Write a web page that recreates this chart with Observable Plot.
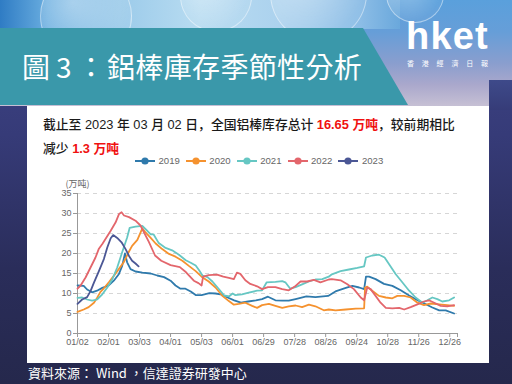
<!DOCTYPE html>
<html><head><meta charset="utf-8">
<script src="https://cdn.jsdelivr.net/npm/d3@7"></script>
<script src="https://cdn.jsdelivr.net/npm/@observablehq/plot@0.6"></script>
<style>
html,body{margin:0;padding:0;}
body{width:512px;height:384px;overflow:hidden;position:relative;
 background:linear-gradient(180deg,#40468a 0%,#363b78 35%,#2a2d5a 70%,#25284c 100%);
 font-family:"Noto Sans CJK TC","Noto Sans",sans-serif;}
.abs{position:absolute;}
#hdr{left:0;top:0;width:512px;height:106px;
 background:linear-gradient(180deg,#5aa0dc 0%,#669ed8 30%,#8a9ece 60%,#aaa8cc 80%,#c6c0d4 100%);}
#hdrR{left:489px;top:80px;width:23px;height:30px;background:linear-gradient(180deg,#3e4a8a,#363c78);}
#sky{left:0;top:0;width:400px;height:29px;
 background:linear-gradient(90deg,#2f7cc4 0%,#6aaee0 12%,#9ccbea 30%,#b8dcf1 50%,#acd2ee 70%,#8cbde6 90%,#6aa8dc 100%);}
.bub{position:absolute;border-radius:50%;border:1px solid rgba(255,255,255,0.45);
 background:radial-gradient(circle at 35% 35%,rgba(255,255,255,0.35),rgba(255,255,255,0.05) 70%);}
#banner{left:0;top:0;width:512px;height:106px;background:#3a98aa;
 clip-path:polygon(0 28px,363px 28px,408px 105px,0 105px);}
.bt{position:absolute;top:46px;color:#fff;font-size:28px;line-height:40px;white-space:pre;font-weight:400;}
#logo{left:406px;top:16.8px;color:#fff;font-family:"Liberation Sans",sans-serif;font-weight:700;font-size:38px;letter-spacing:1.2px;line-height:38px;}
#logo2{left:407px;top:58px;color:#fff;font-size:7px;letter-spacing:7.8px;line-height:10px;white-space:nowrap;}
#panel{left:27px;top:106px;width:462px;height:257px;background:#fff;}
.tl{position:absolute;left:16px;white-space:nowrap;font-size:12.8px;color:#1a1a1a;font-weight:500;
 font-family:"Liberation Sans","Noto Sans CJK SC",sans-serif;}
.tl .cjk{font-family:"Noto Sans CJK SC",sans-serif;}
.red{color:#f01010;font-weight:700;}
#legend{left:108px;top:49px;display:flex;align-items:center;font-family:"Liberation Sans",sans-serif;font-size:9.6px;color:#666;}
#legend .it{display:flex;align-items:center;margin-right:6px;}
#legend svg{margin-right:3.5px;}
#chart{left:0;top:64px;}
#cap{left:28px;top:364px;color:#fff;font-size:13px;line-height:18px;white-space:pre;}
</style></head>
<body>
<div id="hdr" class="abs"></div>
<div id="hdrR" class="abs"></div>
<div id="sky" class="abs"></div>
<div class="bub" style="left:40px;top:-30px;width:90px;height:90px;"></div>
<div class="bub" style="left:180px;top:-40px;width:70px;height:70px;"></div>
<div class="bub" style="left:270px;top:-55px;width:95px;height:95px;"></div>
<div class="bub" style="left:386px;top:-35px;width:56px;height:56px;"></div>
<div id="banner" class="abs"></div>
<div class="bt" style="left:22px;">圖</div>
<div class="bt" style="left:56px;">3</div>
<div class="bt" style="left:77px;">：</div>
<div class="bt" style="left:107px;letter-spacing:0.35px;">鋁棒庫存季節性分析</div>
<div id="logo" class="abs">hket</div>
<div id="logo2" class="abs">香港經濟日報</div>
<div id="panel" class="abs">
 <div class="tl" style="top:8px;"><span class="cjk">截止至</span> 2023 <span class="cjk">年</span> 03 <span class="cjk">月</span> 02 <span class="cjk">日，全国铝棒库存总计</span> <span class="red">16.65 <span class="cjk">万吨</span></span><span class="cjk">，较前期相比</span></div>
 <div class="tl" style="top:32px;"><span class="cjk">减少</span> <span class="red">1.3 <span class="cjk">万吨</span></span></div>
 <div id="legend" class="abs"></div>
 <div id="chart" class="abs"></div>
</div>
<div id="cap" class="abs">資料來源： Wind ，信達證券研發中心</div>
<script>
// ---- data (x in tick-interval units: 0 = 01/02, 1 = 02/01, ...) ----
const xTickLabels = ["01/02","02/01","03/03","04/01","05/03","06/01","06/29","07/28","08/26","09/24","10/28","11/26","12/26"];
const yTicks = [0,5,10,15,20,25,30,35];
const years = ["2019","2020","2021","2022","2023"];
const colors = ["#2f7aac","#f5922f","#66c7c3","#e3666c","#4b5795"];

const t2019 = [0,0.2,0.31,0.47,0.63,0.8,1.0,1.17,1.33,1.44,1.53,1.6,1.71,1.87,2.09,2.36,2.57,2.79,3.0,3.16,3.32,3.48,3.65,3.81,4.0,4.25,4.45,4.66,4.84,5.05,5.27,5.5,5.75,5.95,6.14,6.38,6.6,6.81,7.03,7.38,7.67,8.08,8.34,8.65,8.86,9.08,9.24,9.3,9.4,9.61,9.88,10.15,10.42,10.69,10.96,11.23,11.44,11.66,11.87,12.14];
const v2019 = [12.0,11.9,11.0,10.3,10.7,11.4,12.0,13.2,14.8,16.9,20.0,17.8,16.1,15.5,15.2,15.0,14.5,14.1,13.2,12.0,11.2,11.2,10.5,9.6,9.6,10.1,10.0,9.7,9.0,8.3,7.7,8.0,8.3,8.6,9.2,8.3,8.2,8.2,8.6,9.3,9.1,9.4,10.6,11.4,11.9,11.5,11.1,14.2,14.2,13.6,12.4,11.9,10.8,9.5,8.3,7.3,6.5,5.8,5.8,5.0];

const t2020 = [0,0.2,0.36,0.53,0.63,0.74,0.85,1.01,1.17,1.33,1.49,1.66,1.76,1.93,2.09,2.2,2.36,2.52,2.73,2.95,3.16,3.38,3.59,3.81,4.0,4.23,4.45,4.66,4.88,5.04,5.2,5.41,5.63,5.79,5.95,6.17,6.38,6.6,6.81,7.03,7.24,7.46,7.67,7.94,8.1,8.32,8.65,8.97,9.24,9.27,9.34,9.5,9.72,9.94,10.15,10.31,10.53,10.74,10.96,11.17,11.39,11.66,11.92,12.14];
const v2020 = [5.4,6.0,6.6,7.7,8.9,10.4,11.3,12.8,14.4,16.1,17.8,20.5,21.9,23.4,26.3,25.2,23.9,22.5,21.1,19.9,19.2,18.2,16.9,15.6,14.2,13.0,11.5,9.5,8.1,7.2,7.4,7.7,6.9,6.4,7.1,7.4,6.9,6.4,6.8,7.0,6.6,7.2,6.8,5.8,6.0,5.8,6.0,6.2,6.3,11.5,11.7,10.7,9.4,9.0,8.8,9.4,9.4,9.0,7.7,7.1,7.5,7.3,7.1,6.9];

const t2021 = [0,0.15,0.31,0.47,0.63,0.8,0.96,1.12,1.28,1.44,1.6,1.68,1.87,2.09,2.22,2.36,2.45,2.62,2.84,3.05,3.27,3.49,3.65,3.81,3.92,4.03,4.19,4.35,4.57,4.73,4.89,5.0,5.09,5.3,5.52,5.79,5.95,6.1,6.38,6.6,6.7,6.86,7.03,7.24,7.46,7.67,7.89,8.1,8.2,8.48,8.75,9.02,9.24,9.3,9.5,9.72,9.9,10.04,10.26,10.47,10.69,10.9,11.12,11.28,11.44,11.6,11.76,11.98,12.14];
const v2021 = [8.9,9.0,8.5,8.2,8.5,9.8,11.5,13.5,16.5,20.3,24.0,26.4,26.7,26.9,25.9,24.8,24.8,22.6,21.4,20.8,19.7,18.3,17.7,17.0,15.8,14.5,14.1,13.0,11.0,9.5,9.3,10.0,9.6,9.8,10.2,10.7,10.8,12.8,12.9,13.1,12.8,11.2,11.6,12.3,13.0,13.5,13.6,14.2,14.8,15.6,16.0,16.4,16.8,19.0,19.5,19.7,19.0,17.4,14.8,12.8,10.7,9.0,7.7,8.3,9.0,8.6,8.0,8.3,9.0];

const t2022 = [0,0.1,0.26,0.42,0.58,0.69,0.8,1.07,1.23,1.34,1.42,1.5,1.66,1.87,2.03,2.3,2.5,2.7,3.0,3.3,3.5,3.75,3.9,4.0,4.05,4.23,4.5,4.7,4.88,5.04,5.14,5.25,5.41,5.57,5.79,5.95,6.14,6.38,6.6,6.81,7.03,7.19,7.4,7.62,7.83,8.1,8.2,8.48,8.7,8.91,9.13,9.24,9.34,9.45,9.61,9.77,9.94,10.15,10.37,10.53,10.74,10.96,11.17,11.33,11.5,11.71,11.92,12.14];
const v2022 = [11.2,12.0,14.0,16.5,19.0,21.2,22.4,25.7,27.8,29.9,30.3,29.5,29.1,28.2,27.0,22.9,19.5,18.2,17.1,16.6,15.3,13.2,12.6,12.0,14.2,14.6,14.7,14.2,13.9,13.6,15.2,14.9,13.3,12.4,11.8,11.1,11.6,11.6,11.1,10.8,11.9,13.0,13.0,13.4,12.8,13.5,13.6,13.3,12.3,11.1,9.0,8.3,11.5,11.1,9.4,7.7,6.4,6.3,6.4,6.0,6.6,7.3,8.0,8.3,7.7,6.9,6.8,7.1];

const t2023 = [0,0.15,0.31,0.42,0.53,0.69,0.85,0.96,1.07,1.15,1.28,1.42,1.55,1.66,1.76,1.87,1.97];
const v2023 = [7.4,8.5,9.1,10.6,12.7,15.6,18.6,21.5,23.8,24.6,23.9,22.8,21.1,19.4,18.2,17.5,16.8];

const ts = [t2019,t2020,t2021,t2022,t2023];
const vs = [v2019,v2020,v2021,v2022,v2023];
const rows = years.flatMap((y,i) => ts[i].map((t,j) => ({year:y, t, v:vs[i][j]})));

// legend
const leg = document.getElementById("legend");
years.forEach((y,i) => {
  const it = document.createElement("div"); it.className = "it";
  it.innerHTML = `<svg width="20" height="8"><line x1="0" y1="4" x2="20" y2="4" stroke="${colors[i]}" stroke-width="2"/><circle cx="10" cy="4" r="3.6" fill="${colors[i]}"/></svg><span>${y}</span>`;
  leg.appendChild(it);
});

const xTicks = d3.range(xTickLabels.length).concat([12.25]);
const chart = Plot.plot({
  width: 462, height: 193,
  marginLeft: 50, marginRight: 32, marginTop: 23, marginBottom: 30,
  style: {fontFamily: "Liberation Sans, sans-serif", fontSize: "9px", color: "#666", background: "transparent"},
  x: {domain: [0, 12.25]},
  y: {domain: [0, 35]},
  color: {domain: years, range: colors},
  marks: [
    Plot.gridY(yTicks.filter(d => d > 0), {stroke: "#d6d6d6", strokeOpacity: 1, strokeDasharray: "4,4"}),
    Plot.axisY(yTicks, {tickSize: 4, tickPadding: 2, label: null, stroke: "#999", fill: "#666"}),
    Plot.axisX(xTicks, {tickSize: 4, tickPadding: 1, label: null, stroke: "#999", fill: "#666",
      tickFormat: d => xTickLabels[d] ?? ""}),
    Plot.ruleX([0], {stroke: "#999"}),
    Plot.ruleY([0], {stroke: "#999"}),
    Plot.text(["(万吨)"], {frameAnchor: "top-left", dy: -13, fill: "#666", fontSize: 9, textAnchor: "middle",
      fontFamily: "Noto Sans CJK SC"}),
    Plot.line(rows, {x: "t", y: "v", z: "year", stroke: "year", strokeWidth: 1.8})
  ]
});
document.getElementById("chart").appendChild(chart);
</script>
</body></html>
